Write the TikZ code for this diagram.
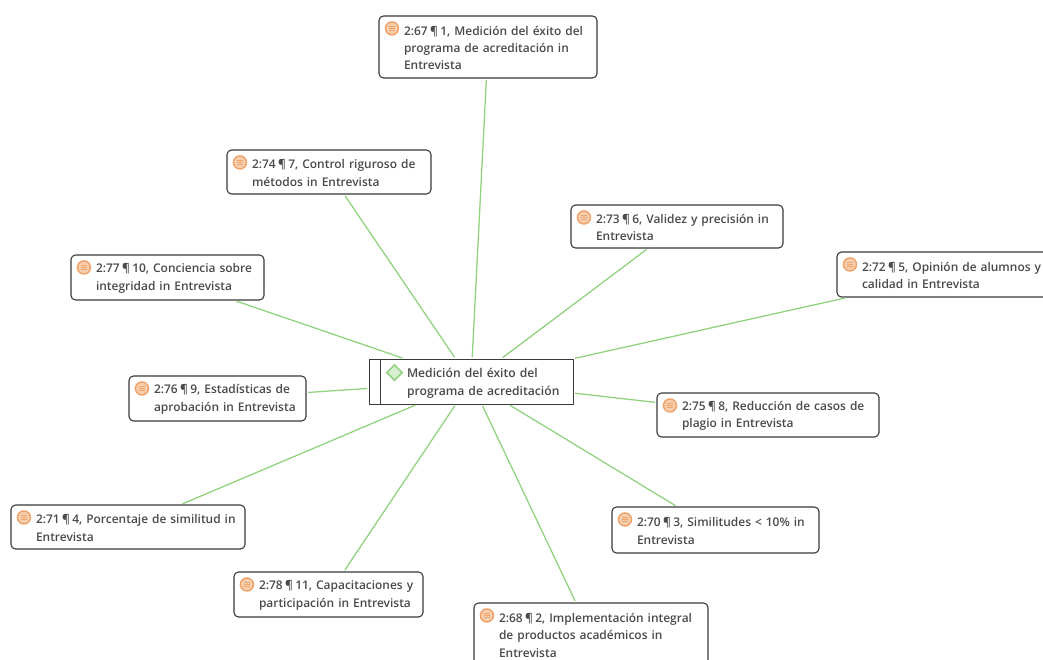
\documentclass[tikz,border=0pt]{standalone}
\usepackage{fontspec}
\setmainfont{Open Sans}[UprightFont={* Semibold}]
\usetikzlibrary{shapes.geometric,calc}
\definecolor{edgegreen}{HTML}{8FD27C}
\definecolor{boxline}{HTML}{3A3A3A}
\definecolor{txt}{HTML}{4A4A4A}
\definecolor{iconor}{HTML}{EFA36B}
\definecolor{iconfill}{HTML}{F8CFAE}
\newcommand{\pil}{\kern-1.6pt¶\kern-1.6pt}
\tikzset{
  x=1pt,y=-1pt,
  quote/.style={draw=boxline,line width=1.1pt,rounded corners=4.5pt,fill=white,inner xsep=0pt,inner ysep=0pt,text=txt,font=\fontsize{11.95}{17.4}\selectfont,anchor=center},
  core/.style={draw=boxline,line width=1pt,fill=white,inner xsep=0pt,inner ysep=0pt,text=txt,font=\fontsize{12.15}{17.2}\selectfont,anchor=center},
  link/.style={draw=edgegreen,line width=1.25pt,shorten <=1.5pt,shorten >=1.5pt},
  qicon/.style={circle,draw=iconor,fill=iconfill,line width=1.5pt,minimum size=13pt,inner sep=0pt},
  cicon/.style={diamond,draw=edgegreen,fill=edgegreen!35,line width=1.5pt,minimum size=16pt,inner sep=0pt},
}
\newcommand{\quotebox}[6]{%
  \pgfmathsetmacro{\qboxw}{#4-#2}\pgfmathsetmacro{\qboxh}{#5-#3}%
  \pgfmathsetmacro{\qboxt}{#4-#2-4}%
  \node[quote,minimum width=\qboxw pt,minimum height=\qboxh pt,text width=\qboxt pt] (#1) at ({(#2+#4)/2},{(#3+#5)/2}) {\raggedright\leftskip=23pt\relax #6\par\vspace*{-1.8pt}};
  \node[qicon] (#1i) at ($(#1.north west)+(13.5,13)$) {};
  \foreach \dy in {-2.4,0,2.4}{\draw[iconor,line width=.9pt] ($(#1i.center)+(-3,\dy)$) -- ($(#1i.center)+(3,\dy)$);}
}
\begin{document}
\begin{tikzpicture}
\useasboundingbox (0,0) rectangle (1043,659);
\clip (0,0) rectangle (1043,659);
\fill[white] (0,0) rectangle (1043,659);
\node[core,minimum width=204pt,minimum height=45pt,text width=200pt] (c) at (471,381.5) {\raggedright\leftskip=36pt\relax Medición del éxito del\\programa de acreditación\par\vspace*{-3.6pt}};
\coordinate (ctop) at ($(c.north west)+(12,0)$);
\coordinate (cbot) at ($(c.south west)+(12,0)$);
\draw[boxline,line width=1pt] (ctop) -- (cbot);
\node[cicon] (ci) at ($(c.north west)+(26,14)$) {};
\quotebox{n1}{379}{16}{597}{78}{2:67 \pil{} 1, Medición del éxito del\\programa de acreditación in\\Entrevista}
\quotebox{n7}{227}{150}{431}{194}{2:74 \pil{} 7, Control riguroso de\\métodos in Entrevista}
\quotebox{n6}{571}{205}{783}{248}{2:73 \pil{} 6, Validez y precisión in\\Entrevista}
\quotebox{n5}{837}{252}{1063}{297}{2:72 \pil{} 5, Opinión de alumnos y\\calidad in Entrevista}
\quotebox{n10}{71}{255}{264}{300}{2:77 \pil{} 10, Conciencia sobre\\integridad in Entrevista}
\quotebox{n9}{129}{376}{306}{421}{2:76 \pil{} 9, Estadísticas de\\aprobación in Entrevista}
\quotebox{n8}{657}{393}{879}{437}{2:75 \pil{} 8, Reducción de casos de\\plagio in Entrevista}
\quotebox{n4}{11}{505}{245}{549}{2:71 \pil{} 4, Porcentaje de similitud in\\Entrevista}
\quotebox{n3}{612}{507}{819}{553}{2:70 \pil{} 3, Similitudes < 10\% in\\Entrevista}
\quotebox{n11}{234}{572}{423}{617}{2:78 \pil{} 11, Capacitaciones y\\participación in Entrevista}
\quotebox{n2}{474}{603}{708}{666}{2:68 \pil{} 2, Implementación integral\\de productos académicos in\\Entrevista}
\foreach \n in {n1,n2,n3,n4,n5,n6,n7,n8,n9,n10,n11}{\draw[link] (c) -- (\n);}
\end{tikzpicture}
\end{document}
